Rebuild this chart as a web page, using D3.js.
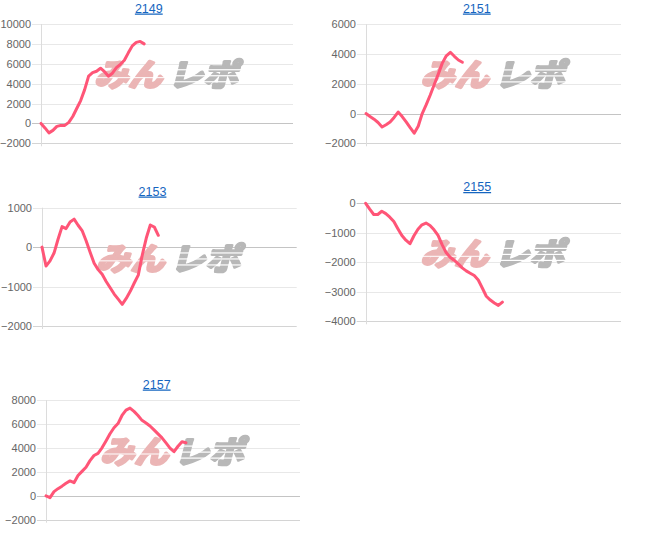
<!DOCTYPE html>
<html>
<head>
<meta charset="utf-8">
<script src="https://cdn.jsdelivr.net/npm/d3@7"></script>
<style>
  html, body { margin: 0; padding: 0; background: #fff; }
  body { width: 658px; height: 543px; position: relative; overflow: hidden; }
  svg { position: absolute; top: 0; overflow: visible; }
</style>
</head>
<body>
<script>
// ---- data ----
const titles = ["2149", "2151", "2153", "2155", "2157"];
const s2149 = [0,-450,-950,-700,-300,-200,-200,100,700,1500,2300,3400,4750,5100,5250,5550,5200,4750,5050,5600,5950,6350,7100,7800,8150,8250,8000];
const s2151 = [0,-200,-380,-600,-900,-750,-570,-260,100,-200,-560,-950,-1320,-850,0,600,1250,1950,2650,3390,3880,4120,3850,3600,3450];
const s2153 = [0,-480,-350,-150,200,520,470,640,710,555,420,160,-130,-410,-570,-690,-870,-1030,-1190,-1320,-1450,-1300,-1120,-910,-710,-200,230,560,510,300];
const s2155 = [0,-200,-380,-380,-270,-350,-470,-620,-860,-1090,-1250,-1370,-1100,-880,-730,-670,-750,-900,-1090,-1400,-1670,-1830,-1930,-2050,-2190,-2290,-2370,-2450,-2600,-2870,-3150,-3280,-3380,-3460,-3350];
const s2157 = [0,-150,350,600,810,1050,1250,1100,1700,2050,2400,2950,3380,3550,4020,4600,5200,5700,6050,6730,7180,7350,7070,6720,6320,6100,5850,5520,5190,4850,4430,4000,3700,4150,4530,4450];
const ticks2149 = [-2000, 0, 2000, 4000, 6000, 8000, 10000];
const ticks2151 = [-2000, 0, 2000, 4000, 6000];
const ticks2153 = [-2000, -1000, 0, 1000];
const ticks2155 = [-4000, -3000, -2000, -1000, 0];
const ticks2157 = [-2000, 0, 2000, 4000, 6000, 8000];
const xSlots = 63.5; // sample slots across the plot width

// ---- layout ----
const panels = [
  { col: 0, title: titles[0], values: s2149, ticks: ticks2149, l: 41,   r: 293, t: 24,    b: 143.3, tx: 148.8, ty: 12.5 },
  { col: 1, title: titles[1], values: s2151, ticks: ticks2151, l: 36,   r: 291, t: 24.3,  b: 143.3, tx: 146.8, ty: 12.5 },
  { col: 0, title: titles[2], values: s2153, ticks: ticks2153, l: 42,   r: 296.7, t: 207.7, b: 326,  tx: 152.5, ty: 195.5 },
  { col: 1, title: titles[3], values: s2155, ticks: ticks2155, l: 35.7, r: 291, t: 203.3, b: 321.3, tx: 147.2, ty: 191 },
  { col: 0, title: titles[4], values: s2157, ticks: ticks2157, l: 46,   r: 300, t: 400.3, b: 519.7, tx: 156.7, ty: 388.5 }
];

const cols = [
  d3.select("body").append("svg").attr("width", 325).attr("height", 543).style("left", "0px"),
  d3.select("body").append("svg").attr("width", 328).attr("height", 543).style("left", "330px")
];

// stripe mask for watermark
cols.forEach((svg, ci) => {
  const defs = svg.append("defs");
  const m = defs.append("mask").attr("id", "wm" + ci).attr("maskUnits", "userSpaceOnUse")
    .attr("x", -200).attr("y", -100).attr("width", 400).attr("height", 200);
  m.append("rect").attr("x", -200).attr("y", -100).attr("width", 400).attr("height", 200).attr("fill", "#fff");
  [-6, 0, 6].forEach(yy => {
    m.append("rect").attr("x", 4).attr("y", yy).attr("width", 80).attr("height", 1.2).attr("fill", "#000");
  });
  m.append("rect").attr("x", -80).attr("y", 2).attr("width", 80).attr("height", 1).attr("fill", "#000");
});

panels.forEach(p => {
  const svg = cols[p.col];
  const g = svg.append("g");
  const y = d3.scaleLinear().domain(d3.extent(p.ticks)).range([p.b, p.t]);
  const x = d3.scaleLinear().domain([0, xSlots]).range([p.l, p.r]);
  const minT = d3.min(p.ticks);

  // title
  g.append("text")
    .attr("x", p.tx).attr("y", p.ty)
    .attr("text-anchor", "middle")
    .attr("font-family", "Arial, 'Liberation Sans', sans-serif")
    .attr("font-size", 12.5)
    .attr("fill", "#1565c0")
    .attr("text-decoration", "underline")
    .text(p.title);

  // gridlines
  g.selectAll("line.grid").data(p.ticks).enter().append("line")
    .attr("x1", p.l - 9).attr("x2", p.r)
    .attr("y1", d => Math.round(y(d)) + 0.5).attr("y2", d => Math.round(y(d)) + 0.5)
    .attr("stroke", d => d === 0 ? "#c4c4c4" : (d === minT ? "#d4d4d4" : "#e8e8e8"))
    .attr("stroke-width", 1);

  // left axis line
  g.append("line")
    .attr("x1", Math.round(p.l) + 0.5).attr("x2", Math.round(p.l) + 0.5)
    .attr("y1", p.t).attr("y2", p.b + 3)
    .attr("stroke", "#dcdcdc");

  // tick labels
  const yAxis = d3.axisLeft(y).tickValues(p.ticks).tickSize(0).tickPadding(0).tickFormat(d3.format("d"));
  const ax = g.append("g").attr("transform", `translate(${p.l - 10},0)`).call(yAxis);
  ax.select(".domain").remove();
  ax.selectAll("text")
    .attr("font-family", "Arial, 'Liberation Sans', sans-serif")
    .attr("font-size", 11)
    .attr("fill", "#666");

  // watermark
  const cx = (p.l + p.r) / 2, cy = (p.t + p.b) / 2 - 8.5;
  const wm = g.append("g").attr("transform", `translate(${cx},${cy})`)
    .attr("mask", `url(#wm${p.col})`);
  const wmInner = wm.append("g").attr("transform", "skewX(-14)");
  const pink = "#ebb5b5", grey = "#b8b8b8";
  wmInner.append("text")
    .attr("x", -70).attr("y", 0).attr("dy", "0.36em")
    .attr("font-family", "'Noto Sans CJK JP', sans-serif")
    .attr("font-weight", 700).attr("font-size", 31)
    .attr("textLength", 68).attr("lengthAdjust", "spacingAndGlyphs")
    .attr("fill", pink).attr("stroke", pink).attr("stroke-width", 3).attr("stroke-linejoin", "round")
    .text("みん");
  wmInner.append("text")
    .attr("x", 4).attr("y", 0).attr("dy", "0.36em")
    .attr("font-family", "'Noto Sans CJK JP', sans-serif")
    .attr("font-weight", 700).attr("font-size", 31)
    .attr("textLength", 70).attr("lengthAdjust", "spacingAndGlyphs")
    .attr("fill", grey).attr("stroke", grey).attr("stroke-width", 3).attr("stroke-linejoin", "round")
    .text("レポ");

  // line
  const line = d3.line().x((d, i) => x(i)).y(d => y(d)).curve(d3.curveLinear);
  g.append("path")
    .datum(p.values)
    .attr("d", line)
    .attr("fill", "none")
    .attr("stroke", "#ff5577")
    .attr("stroke-width", 3)
    .attr("stroke-linejoin", "round")
    .attr("stroke-linecap", "round");
});
</script>
</body>
</html>
